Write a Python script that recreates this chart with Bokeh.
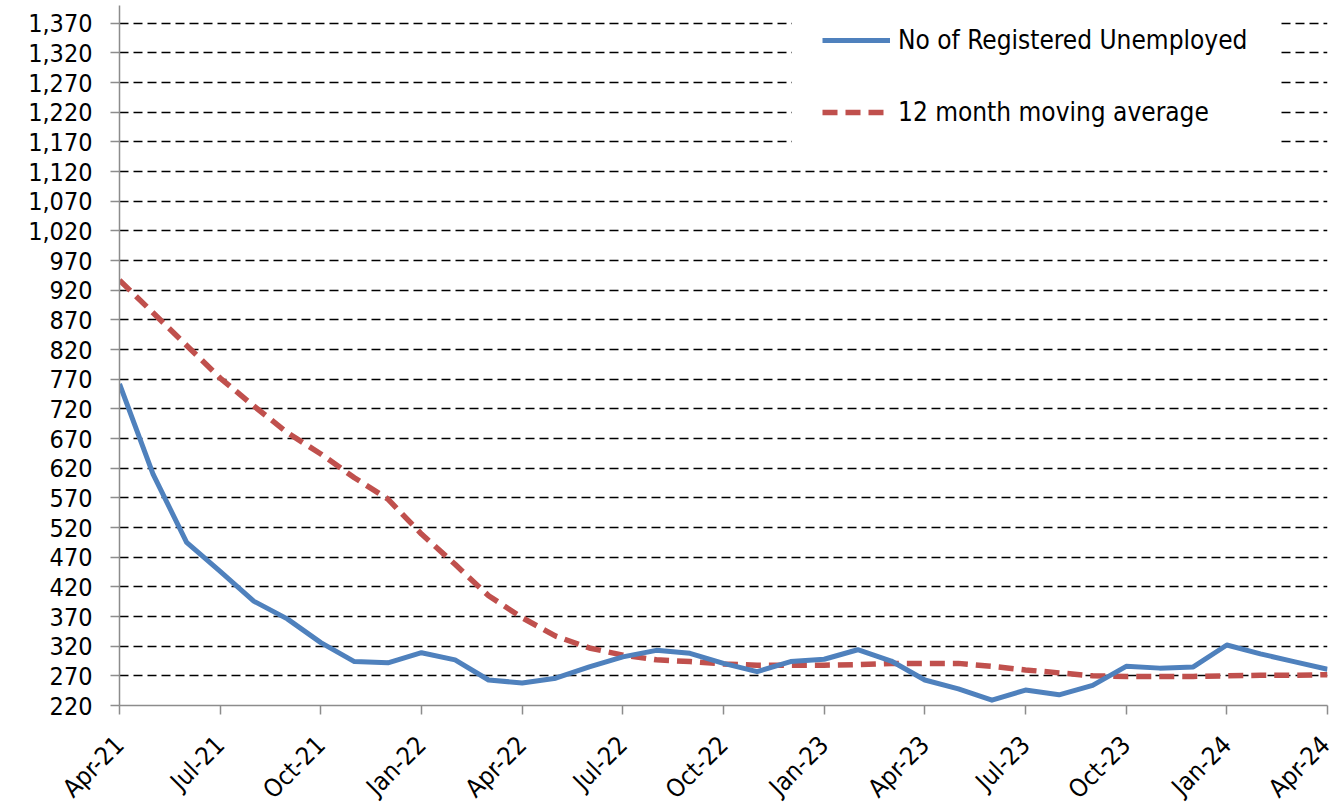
import math
from bokeh.plotting import figure
from bokeh.models import FixedTicker, Range1d, Legend, LegendItem, ColumnDataSource, NumeralTickFormatter
from bokeh.embed import file_html
from bokeh.resources import INLINE

months = ["Apr-21", "May-21", "Jun-21", "Jul-21", "Aug-21", "Sep-21", "Oct-21", "Nov-21", "Dec-21",
          "Jan-22", "Feb-22", "Mar-22", "Apr-22", "May-22", "Jun-22", "Jul-22", "Aug-22", "Sep-22",
          "Oct-22", "Nov-22", "Dec-22", "Jan-23", "Feb-23", "Mar-23", "Apr-23", "May-23", "Jun-23",
          "Jul-23", "Aug-23", "Sep-23", "Oct-23", "Nov-23", "Dec-23", "Jan-24", "Feb-24", "Mar-24",
          "Apr-24"]
unemployed = [762, 610, 495, 446, 396, 366, 326, 294, 292, 309, 297, 263, 258, 266, 285, 302, 313, 308,
              291, 277, 294, 298, 314, 295, 263, 248, 229, 246, 238, 254, 286, 283, 285, 322, 307, 294,
              281]
moving_avg = [937, 882, 827, 772, 725, 680, 644, 604, 568, 509, 458, 405, 368, 337, 317, 305, 297, 294,
              290, 288, 288, 288, 289, 291, 291, 291, 286, 280, 275, 270, 269, 269, 269, 270, 271, 271,
              272]
x_tick_labels = ["Apr-21", "Jul-21", "Oct-21", "Jan-22", "Apr-22", "Jul-22", "Oct-22", "Jan-23",
                 "Apr-23", "Jul-23", "Oct-23", "Jan-24", "Apr-24"]
y_ticks = [220, 270, 320, 370, 420, 470, 520, 570, 620, 670, 720, 770, 820, 870, 920, 970, 1020, 1070,
           1120, 1170, 1220, 1270, 1320, 1370]
series_names = ["No of Registered Unemployed", "12 month moving average"]

FONT = "DejaVu Sans Condensed"
FSIZE = "25px"

idx = list(range(len(months)))
x_tick_pos = [months.index(m) for m in x_tick_labels]
src = ColumnDataSource(dict(x=idx, month=months, u=unemployed, ma=moving_avg))

p = figure(frame_width=1208, frame_height=700, output_backend="svg", toolbar_location=None,
           x_range=Range1d(0, len(months) - 1), y_range=Range1d(220, 1400),
           min_border_left=119, min_border_right=8, min_border_top=5, min_border_bottom=0)
p.outline_line_color = None
p.background_fill_color = "white"

r_ma = p.line("x", "ma", source=src, line_color="#C0504D", line_width=5.5, line_dash="15 8",
              line_cap="butt")
r_u = p.line("x", "u", source=src, line_color="#4F81BD", line_width=5, line_join="round")

# axes
p.xaxis.ticker = FixedTicker(ticks=x_tick_pos)
p.xaxis.major_label_overrides = {pos: lab for pos, lab in zip(x_tick_pos, x_tick_labels)}
p.xaxis.major_label_orientation = math.pi / 4
p.yaxis.ticker = FixedTicker(ticks=y_ticks)
p.yaxis.formatter = NumeralTickFormatter(format="0,0")
for ax in (p.xaxis, p.yaxis):
    ax.axis_line_color = "#8C8C8C"
    ax.axis_line_width = 1.5
    ax.major_tick_line_color = "#8C8C8C"
    ax.major_tick_line_width = 1.5
    ax.major_tick_in = 0
    ax.major_tick_out = 9
    ax.minor_tick_line_color = None
    ax.major_label_text_font = FONT
    ax.major_label_text_font_size = FSIZE
    ax.major_label_text_color = "black"
p.yaxis.major_label_standoff = 18
p.xaxis.major_label_standoff = 26

p.xgrid.grid_line_color = None
p.ygrid.grid_line_color = "black"
p.ygrid.grid_line_width = 1.7
p.ygrid.grid_line_dash = "9 5"

legend = Legend(items=[LegendItem(label=series_names[0], renderers=[r_u]),
                       LegendItem(label=series_names[1], renderers=[r_ma])],
                location=(673, 548), padding=30, spacing=42, glyph_width=68, glyph_height=26,
                label_height=26, label_standoff=8, label_text_font=FONT, label_text_font_size="26px",
                label_text_color="black", border_line_color="white", border_line_alpha=0.0,
                background_fill_color="white", background_fill_alpha=1.0, margin=0)
p.add_layout(legend, "center")

open("out.html", "w").write(file_html(p, INLINE))
